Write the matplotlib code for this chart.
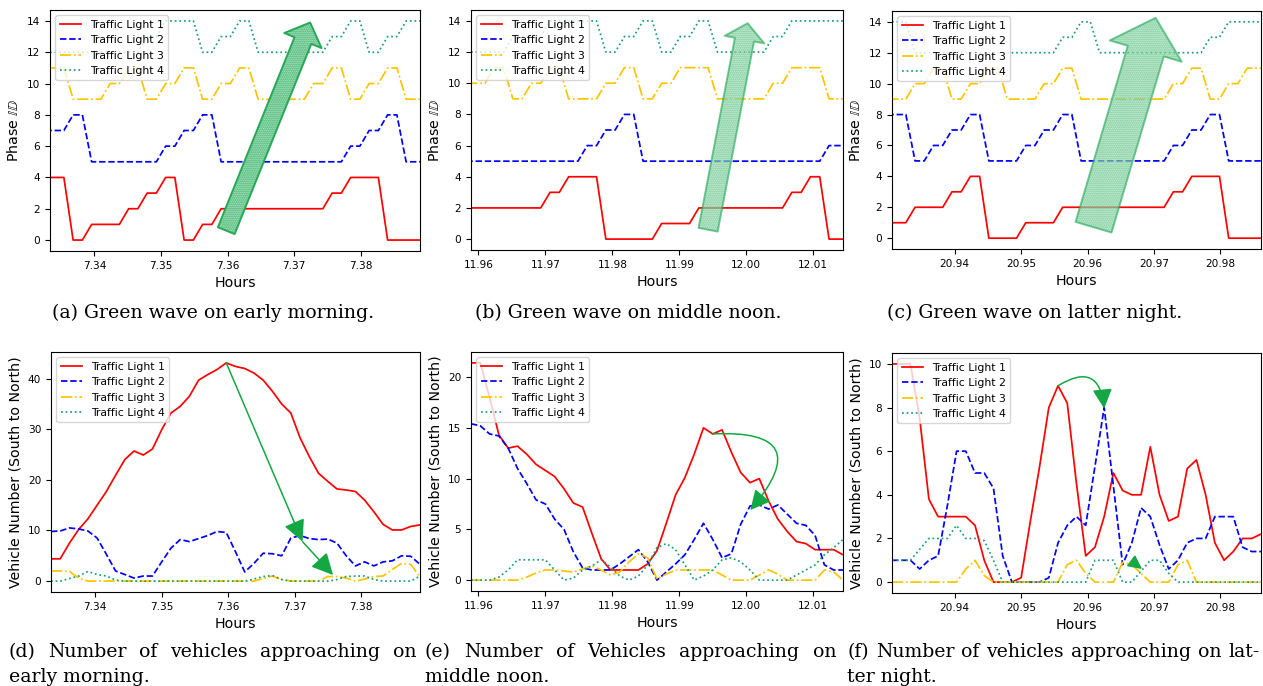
import matplotlib.pyplot as plt
import numpy as np
from matplotlib.patches import FancyArrowPatch
from matplotlib.ticker import MultipleLocator, FormatStrFormatter

# ---------------- data ----------------
light_labels = ['Traffic Light 1', 'Traffic Light 2', 'Traffic Light 3', 'Traffic Light 4']
light_colors = ['#ff0000', '#0000ff', '#ffc400', '#1a9e72']
light_styles = ['-', '--', '-.', ':']

sample_step = 5.0        # seconds between samples
window_len = 200.0       # seconds shown in each panel
start_morning = 26400.0  # seconds of the day
start_noon = 43052.0
start_night = 75350.0

# phase ids (sampled every 5 s, half a step before the window start)
phase_morning_1 = [4,4,4,0,0,1,1,1,1,2,2,3,3,4,4,0,0,1,1,2,2,2,2,2,2,2,2,2,2,2,2,3,3,4,4,4,4,0,0,0,0,0]
phase_morning_2 = [7,7,7,8,8,5,5,5,5,5,5,5,5,6,6,7,7,8,8,5,5,5,5,5,5,5,5,5,5,5,5,5,5,6,6,7,7,8,8,5,5,5]
phase_morning_3 = [11,11,11,9,9,9,9,10,10,11,11,9,9,10,10,11,11,9,9,10,10,11,11,9,9,9,9,9,9,10,10,11,11,9,9,10,10,11,11,9,9,9]
phase_morning_4 = [12,12,12,12,12,12,12,12,12,12,12,13,13,14,14,14,14,12,12,13,13,14,14,12,12,12,12,12,12,12,12,13,13,14,14,12,12,13,13,14,14,14]

phase_noon_1 = [2,2,2,2,2,2,2,2,2,3,3,4,4,4,4,0,0,0,0,0,0,1,1,1,1,2,2,2,2,2,2,2,2,2,2,3,3,4,4,0,0,0]
phase_noon_2 = [5,5,5,5,5,5,5,5,5,5,5,5,5,6,6,7,7,8,8,5,5,5,5,5,5,5,5,5,5,5,5,5,5,5,5,5,5,5,5,6,6,6]
phase_noon_3 = [10,10,10,11,11,9,9,10,10,11,11,9,9,9,9,10,10,11,11,9,9,10,10,11,11,11,11,9,9,9,9,9,9,10,10,11,11,11,11,9,9,9]
phase_noon_4 = [12,12,12,12,12,13,13,13,13,14,14,14,14,14,14,12,12,13,13,14,14,12,12,13,13,14,14,12,12,12,12,12,12,13,13,14,14,14,14,14,14,14]

phase_night_1 = [1,1,1,2,2,2,2,3,3,4,4,0,0,0,0,1,1,1,1,2,2,2,2,2,2,2,2,2,2,2,2,3,3,4,4,4,4,0,0,0,0,0]
phase_night_2 = [8,8,8,5,5,6,6,7,7,8,8,5,5,5,5,6,6,7,7,8,8,5,5,5,5,5,5,5,5,5,5,6,6,7,7,8,8,5,5,5,5,5]
phase_night_3 = [9,9,9,10,10,11,11,9,9,10,10,11,11,9,9,9,9,10,10,11,11,9,9,9,9,9,9,9,9,9,9,10,10,11,11,9,9,10,10,11,11,11]
phase_night_4 = [14,14,14,12,12,12,12,12,12,12,12,12,12,12,12,12,12,12,12,13,13,14,14,12,12,12,12,12,12,12,12,12,12,12,12,13,13,14,14,14,14,14]

# vehicles approaching (South to North), sampled every 5 s
veh_morning_1 = [4.4, 4.4, 7.5, 10.2, 12.3, 15.0, 17.7, 20.9, 24.0, 25.7, 24.9, 26.1, 29.9, 33.2, 34.5, 36.5, 39.7, 40.8, 41.8, 43.1,
                 42.4, 42.0, 41.1, 39.7, 37.5, 35.0, 33.2, 28.3, 24.6, 21.3, 19.7, 18.2, 18.0, 17.7, 16.0, 13.7, 11.2, 10.1, 10.1, 10.8, 11.1]
veh_morning_2 = [9.8, 9.9, 10.5, 10.3, 9.9, 8.5, 5.3, 2.0, 1.3, 0.6, 1.0, 1.0, 3.8, 6.5, 8.2, 7.8, 8.4, 9.0, 9.8, 9.6,
                 5.8, 1.8, 3.5, 5.5, 5.4, 5.0, 8.5, 9.0, 8.4, 8.2, 8.3, 7.5, 5.0, 3.0, 3.8, 3.0, 3.8, 4.0, 5.0, 4.9, 3.3]
veh_morning_3 = [2.0, 2.0, 1.9, 0.6, 0, 0, 0, 0, 0, 0, 0, 0, 0, 0, 0, 0, 0, 0, 0, 0,
                 0, 0, 0, 0.5, 1.0, 0.3, 0, 0, 0, 0, 0.9, 0.9, 0.6, 0, 0.4, 0.9, 1.0, 2.3, 3.5, 3.3, 0.8]
veh_morning_4 = [0, 0, 0.5, 1.0, 1.9, 1.3, 1.0, 0.2, 0, 0, 0, 0, 0, 0, 0, 0, 0, 0, 0, 0,
                 0, 0, 0.4, 0.9, 1.1, 0.3, 0, 0, 0, 0, 0, 0.3, 0.9, 1.0, 1.0, 0.3, 0, 0, 0, 0, 1.0]

veh_noon_1 = [21.4, 21.4, 18.0, 14.3, 13.0, 13.2, 12.4, 11.4, 10.8, 10.2, 9.0, 7.6, 7.2, 4.6, 2.1, 1.0, 1.0, 1.0, 1.0, 1.6,
              2.9, 5.6, 8.4, 10.1, 12.4, 15.0, 14.4, 14.8, 12.6, 10.6, 9.6, 10.0, 7.8, 6.0, 4.8, 3.8, 3.6, 3.0, 3.0, 3.0, 2.5]
veh_noon_2 = [15.4, 15.2, 14.4, 14.2, 13.0, 11.0, 9.5, 7.9, 7.5, 6.0, 5.0, 2.8, 1.2, 1.0, 1.0, 1.0, 1.6, 2.3, 3.0, 1.8,
              0.0, 0.8, 1.6, 2.5, 4.0, 5.6, 4.0, 2.2, 2.6, 5.5, 7.3, 7.4, 7.0, 7.4, 6.5, 5.6, 5.4, 4.4, 1.5, 1.0, 1.0]
veh_noon_3 = [0, 0, 0, 0, 0, 0, 0.3, 0.7, 1.0, 1.0, 0.9, 0.8, 1.1, 1.4, 1.0, 0.5, 0.8, 1.8, 2.6, 2.2,
              0.1, 0.6, 1.0, 1.0, 1.0, 1.0, 1.0, 0.5, 0, 0, 0, 0.5, 1.0, 0.6, 0, 0, 0, 0, 1.0, 0.8, 0]
veh_noon_4 = [0, 0, 0, 0.3, 1.0, 2.0, 2.0, 2.0, 2.0, 1.0, 0.0, 0.2, 1.0, 1.4, 2.0, 1.3, 0.4, 0.0, 0.4, 1.5,
              3.2, 3.6, 3.0, 1.5, 0.0, 0.4, 1.0, 2.0, 2.2, 1.8, 1.0, 0, 0, 0, 0, 0.5, 1.0, 1.5, 2.5, 3.2, 4.0]

veh_night_1 = [10.0, 10.0, 10.0, 7.5, 3.8, 3.0, 3.0, 3.0, 3.0, 2.6, 1.0, 0.0, 0.0, 0.0, 0.2, 2.8, 5.3, 8.0, 9.0, 8.2,
               4.5, 1.2, 1.6, 3.0, 5.0, 4.2, 4.0, 4.0, 6.2, 4.0, 2.8, 3.0, 5.2, 5.6, 4.0, 1.8, 1.0, 1.4, 2.0, 2.0, 2.2]
veh_night_2 = [1.0, 1.0, 1.0, 0.6, 1.0, 1.2, 3.5, 6.0, 6.0, 5.0, 5.0, 4.3, 1.2, 0.0, 0.0, 0.0, 0.0, 0.2, 1.8, 2.6,
               3.0, 2.6, 5.3, 8.0, 4.4, 0.8, 1.8, 3.4, 3.0, 1.7, 0.6, 1.0, 1.8, 2.0, 2.0, 3.0, 3.0, 3.0, 1.6, 1.4, 1.4]
veh_night_3 = [0, 0, 0, 0, 0, 0, 0, 0, 0.6, 1.0, 0.3, 0, 0, 0, 0, 0, 0, 0, 0, 0.8,
               1.0, 0.4, 0, 0, 0, 0.9, 0.8, 0.4, 0, 0, 0, 0.8, 1.0, 0, 0, 0, 0, 0, 0, 0, 0]
veh_night_4 = [1.0, 1.0, 1.0, 1.5, 2.0, 2.0, 2.0, 2.6, 2.0, 2.0, 1.9, 1.0, 0, 0, 0, 0, 0, 0, 0, 0,
               0, 0, 1.0, 1.0, 1.0, 0, 0, 0.5, 1.0, 1.0, 0.4, 0, 0, 0, 0, 0, 0, 0, 0, 0, 0]

# green-wave arrows on the phase plots: (tail, tip) in (hours, phase)
wave_morning = ((7.3598, 0.6), (7.3724, 13.9))
wave_noon = ((11.9943, 0.6), (12.0002, 13.85))
wave_night = ((20.9609, 0.71), (20.97025, 14.26))

captions_top = ['(a) Green wave on early morning.',
                '(b) Green wave on middle noon.',
                '(c) Green wave on latter night.']
captions_bottom = [('(d) Number of vehicles approaching on', 'early morning.'),
                   ('(e) Number of Vehicles approaching on', 'middle noon.'),
                   ('(f) Number of vehicles approaching on lat-', 'ter night.')]

# ---------------- figure ----------------
W, H = 1263, 686
fig = plt.figure(figsize=(W / 100, H / 100), dpi=100)

tick_size = 7.6
label_size = 10.2
legend_size = 7.8
cap_size = 13.6


def px_axes(l, t, r, b):
    return fig.add_axes([l / W, 1 - b / H, (r - l) / W, (b - t) / H])


def draw_panel(ax, start, series, offset, ylabel):
    n = len(series[0])
    t = (start + offset + sample_step * np.arange(n)) / 3600.0
    for k in range(4):
        ax.plot(t, series[k], color=light_colors[k], ls=light_styles[k], lw=1.25,
                label=light_labels[k])
    ax.set_xlim(start / 3600.0, (start + window_len) / 3600.0)
    ax.xaxis.set_major_locator(MultipleLocator(0.01))
    ax.xaxis.set_major_formatter(FormatStrFormatter('%.2f'))
    ax.tick_params(labelsize=tick_size)
    ax.set_xlabel('Hours', fontsize=label_size)
    ax.set_ylabel(ylabel, fontsize=label_size)
    ax.legend(loc='upper left', fontsize=legend_size)


def wave_arrow(ax, wave, shaft, head_w, head_l, alpha):
    style = 'simple,tail_width=%g,head_width=%g,head_length=%g' % (shaft, head_w, head_l)
    ax.add_patch(FancyArrowPatch(wave[0], wave[1], arrowstyle=style, mutation_scale=1,
                                 facecolor='#bfeccf', edgecolor='#1fa453', hatch='........',
                                 lw=1.4, alpha=alpha, shrinkA=0, shrinkB=0, zorder=5))


phase_label = r'Phase $\mathbb{ID}$'
veh_label = 'Vehicle Number (South to North)'

ax_a = px_axes(50, 10, 420, 251)
draw_panel(ax_a, start_morning, [phase_morning_1, phase_morning_2, phase_morning_3, phase_morning_4],
           -sample_step / 2, phase_label)
wave_arrow(ax_a, wave_morning, 13, 29, 14, 0.95)

ax_b = px_axes(471, 10, 843, 250)
draw_panel(ax_b, start_noon, [phase_noon_1, phase_noon_2, phase_noon_3, phase_noon_4],
           -sample_step / 2, phase_label)
wave_arrow(ax_b, wave_noon, 14, 29, 12, 0.6)

ax_c = px_axes(892, 11, 1261, 249)
draw_panel(ax_c, start_night, [phase_night_1, phase_night_2, phase_night_3, phase_night_4],
           -sample_step / 2, phase_label)
wave_arrow(ax_c, wave_night, 27, 54, 25, 0.6)

ax_d = px_axes(51, 352, 420, 592)
draw_panel(ax_d, start_morning, [veh_morning_1, veh_morning_2, veh_morning_3, veh_morning_4], 0, veh_label)
ax_e = px_axes(471, 352, 843, 591)
draw_panel(ax_e, start_noon, [veh_noon_1, veh_noon_2, veh_noon_3, veh_noon_4], 0, veh_label)
ax_f = px_axes(892, 353, 1261, 593)
draw_panel(ax_f, start_night, [veh_night_1, veh_night_2, veh_night_3, veh_night_4], 0, veh_label)

# arrows following the queue from one light to the next
green = '#13a843'
def queue_arrow(ax, a, b, rad, size):
    ax.annotate('', xy=b, xytext=a,
                arrowprops=dict(arrowstyle='-|>,head_length=0.6,head_width=0.3', color=green,
                                lw=1.1, mutation_scale=size, shrinkA=0, shrinkB=0,
                                connectionstyle='arc3,rad=%g' % rad))

queue_arrow(ax_d, (7.35972, 43.1), (7.3712, 7.8), 0, 22)
queue_arrow(ax_d, (7.3712, 7.8), (7.3758, 1.2), 0, 22)
queue_arrow(ax_e, (11.99500, 14.4), (12.0006, 6.9), -1.15, 20)
queue_arrow(ax_f, (20.95556, 9.0), (20.9625, 7.95), -0.8, 20)
queue_arrow(ax_f, (20.96667, 0.95), (20.9682, 0.6), 0, 14)

# ---------------- captions ----------------
cap_font = dict(fontsize=cap_size, family='DejaVu Serif', va='baseline')
for x, txt in zip([213, 628, 1035], captions_top):
    fig.text(x / W, 1 - 318 / H, txt, ha='center', **cap_font)

renderer = fig.canvas.get_renderer()
for (x0, x1), (line1, line2) in zip([(9, 416), (425, 836), (847, 1260)], captions_bottom):
    words = line1.split(' ')
    objs = [fig.text(x0 / W, 1 - 657 / H, w, **cap_font) for w in words]
    widths = [o.get_window_extent(renderer).width for o in objs]
    gap = (x1 - x0 - sum(widths)) / (len(words) - 1)
    x = x0
    for o, w in zip(objs, widths):
        o.set_x(x / W)
        x += w + gap
    fig.text(x0 / W, 1 - 682 / H, line2, **cap_font)

fig.savefig('out.png', dpi=100)
